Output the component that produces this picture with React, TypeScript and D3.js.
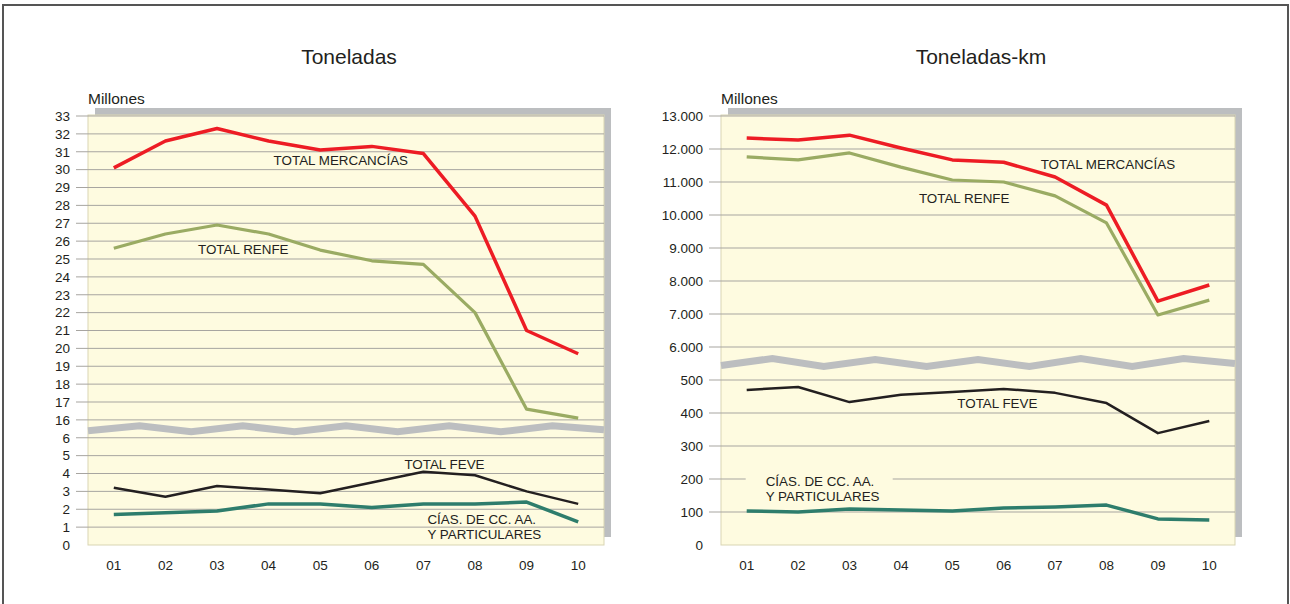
import * as d3 from "d3";
import React from "react";

// años (eje X)
const years = ["01", "02", "03", "04", "05", "06", "07", "08", "09", "10"];

// Toneladas (millones)
const tonMercancias = [30.1, 31.6, 32.3, 31.6, 31.1, 31.3, 30.9, 27.4, 21.0, 19.7];
const tonRenfe = [25.6, 26.4, 26.9, 26.4, 25.5, 24.9, 24.7, 22.0, 16.6, 16.1];
const tonFeve = [3.2, 2.7, 3.3, 3.1, 2.9, 3.5, 4.1, 3.9, 3.0, 2.3];
const tonCias = [1.7, 1.8, 1.9, 2.3, 2.3, 2.1, 2.3, 2.3, 2.4, 1.3];
const tonTicks = [0, 1, 2, 3, 4, 5, 6, 16, 17, 18, 19, 20, 21, 22, 23, 24, 25, 26, 27, 28, 29, 30, 31, 32, 33];

// Toneladas-km (millones)
const tkmMercancias = [12330, 12270, 12420, 12030, 11670, 11600, 11150, 10300, 7390, 7880];
const tkmRenfe = [11760, 11670, 11880, 11450, 11060, 11000, 10580, 9760, 6970, 7420];
const tkmFeve = [470, 479, 433, 455, 464, 473, 461, 430, 339, 376];
const tkmCias = [103, 100, 109, 106, 103, 112, 115, 121, 79, 76];
const tkmTicks = [0, 100, 200, 300, 400, 500, 6000, 7000, 8000, 9000, 10000, 11000, 12000, 13000];

const fmt = d3.formatLocale({ decimal: ",", thousands: ".", grouping: [3], currency: ["", "€"] }).format(",d");

const FONT = "'Liberation Sans', Arial, sans-serif";
const TXT = "#231f20";

type Serie = { values: number[]; color: string; width: number };
type Label = { lines: string[]; year: string; value: number; dx: number; dy: number; box?: boolean };

type PanelProps = {
  title: string;
  left: number;
  right: number;
  domain: number[]; // dominio partido: [0, fin tramo bajo, inicio tramo alto, max]
  ticks: number[];
  series: Serie[];
  labels: Label[];
  zig: number[]; // desplazamiento vertical de la línea de corte, por nodo
  tickFmt: (v: number) => string;
};

function Panel({ title, left, right, domain, ticks, series, labels, zig, tickFmt }: PanelProps) {
  const top = 116;
  const bottom = 545;
  const lowIdx = ticks.indexOf(domain[1]);
  const step = (bottom - top) / (ticks.length - 1);
  const y = d3.scaleLinear()
    .domain(domain)
    .range([bottom, bottom - lowIdx * step, bottom - (lowIdx + 1) * step, top]);
  const x = d3.scalePoint<string>().domain(years).range([left, right]).padding(0.5);
  const line = d3.line<number>().x((_, i) => x(years[i]) as number).y(d => y(d));

  const breakY = bottom - (lowIdx + 0.5) * step;
  const zx = d3.scaleLinear().domain([0, zig.length - 1]).range([left, right]);
  const zigLine = d3.line<number>().x((_, i) => zx(i)).y(d => breakY + d);

  return (
    <g>
      <text x={(left + right) / 2 + 3} y={64} textAnchor="middle" fontSize={21} fill={TXT}>{title}</text>
      <text x={left} y={104} fontSize={15.5} fill={TXT}>Millones</text>
      {/* sombra */}
      <rect x={left + 7} y={top - 8} width={right - left} height={bottom - top} fill="#bcbec0" />
      <rect x={left} y={top - 1} width={right - left} height={bottom - top + 1} fill="#fefbe0" stroke="#d9d5b3" strokeWidth={1} />
      {ticks.map(t => (
        <g key={t}>
          {t !== 0 && <line x1={left - 12} x2={right} y1={y(t)} y2={y(t)} stroke="#a7a5a0" strokeWidth={1} />}
          <text x={left - 18} y={y(t)} dy="0.36em" textAnchor="end" fontSize={13.5} fill={TXT}>{tickFmt(t)}</text>
        </g>
      ))}
      <path d={zigLine(zig) || ""} fill="none" stroke="#bcbec0" strokeWidth={7} />
      {labels.filter(l => l.box).map((l, i) => {
        const lx = (x(l.year) as number) + l.dx;
        const ly = y(l.value) + l.dy;
        return <rect key={"b" + i} x={lx - 20} y={ly - 13} width={147} height={l.lines.length * 15 + 4} fill="#fefbe0" />;
      })}
      {series.map((s, i) => (
        <path key={i} d={line(s.values) || ""} fill="none" stroke={s.color} strokeWidth={s.width} strokeLinejoin="round" />
      ))}
      {labels.map((l, i) => {
        const lx = (x(l.year) as number) + l.dx;
        const ly = y(l.value) + l.dy;
        return (
          <text key={i} x={lx} y={ly} fontSize={13.4} fill={TXT}>
            {l.lines.map((t, j) => <tspan key={j} x={lx} dy={j === 0 ? 0 : 15}>{t}</tspan>)}
          </text>
        );
      })}
      {years.map(yr => (
        <text key={yr} x={x(yr)} y={570} textAnchor="middle" fontSize={13.5} fill={TXT}>{yr}</text>
      ))}
    </g>
  );
}

export default function App() {
  return (
    <svg width={1290} height={604} style={{ display: "block", position: "absolute", left: 0, top: 0, fontFamily: FONT }}>
      <rect x={0} y={0} width={1290} height={604} fill="#ffffff" />
      <rect x={3} y={5} width={1285} height={610} fill="none" stroke="#555" strokeWidth={2} />
      <Panel
        title="Toneladas"
        left={88}
        right={604}
        domain={[0, 6, 16, 33]}
        ticks={tonTicks}
        tickFmt={v => String(v)}
        zig={[2, -3, 3, -3, 3, -3, 3, -3, 3, -3, 1]}
        series={[
          { values: tonRenfe, color: "#9aab63", width: 3.2 },
          { values: tonMercancias, color: "#ed1c24", width: 3.5 },
          { values: tonFeve, color: "#231f20", width: 2.5 },
          { values: tonCias, color: "#2e7d6c", width: 3.5 },
        ]}
        labels={[
          { lines: ["TOTAL MERCANCÍAS"], year: "04", value: 30.5, dx: 5, dy: 4 },
          { lines: ["TOTAL RENFE"], year: "03", value: 25.5, dx: -19, dy: 4 },
          { lines: ["TOTAL FEVE"], year: "07", value: 4.5, dx: -19, dy: 4 },
          { lines: ["CÍAS. DE CC. AA.", "Y PARTICULARES"], year: "07", value: 1.4, dx: 4, dy: 4 },
        ]}
      />
      <Panel
        title="Toneladas-km"
        left={721}
        right={1235}
        domain={[0, 500, 6000, 13000]}
        ticks={tkmTicks}
        tickFmt={v => fmt(v)}
        zig={[2, -5, 3, -4, 3, -4, 3, -5, 3, -5, 0]}
        series={[
          { values: tkmRenfe, color: "#9aab63", width: 3.2 },
          { values: tkmMercancias, color: "#ed1c24", width: 3.5 },
          { values: tkmFeve, color: "#231f20", width: 2.5 },
          { values: tkmCias, color: "#2e7d6c", width: 3.5 },
        ]}
        labels={[
          { lines: ["TOTAL MERCANCÍAS"], year: "06", value: 11520, dx: 37, dy: 4 },
          { lines: ["TOTAL RENFE"], year: "04", value: 10470, dx: 18, dy: 4 },
          { lines: ["TOTAL FEVE"], year: "05", value: 428, dx: 5, dy: 4 },
          { lines: ["CÍAS. DE CC. AA.", "Y PARTICULARES"], year: "01", value: 192, dx: 19, dy: 4, box: true },
        ]}
      />
    </svg>
  );
}
